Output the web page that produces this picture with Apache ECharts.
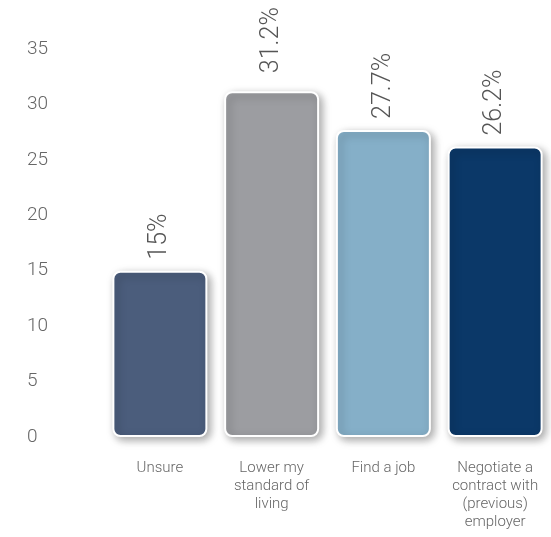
<!DOCTYPE html>
<html>
<head>
<meta charset="utf-8">
<script src="https://cdn.jsdelivr.net/npm/echarts@6/dist/echarts.min.js"></script>
<style>
  html, body { margin: 0; padding: 0; background: #fff; }
  #chart { width: 551px; height: 537px; }
</style>
</head>
<body>
<div id="chart"></div>
<script>
// data
var categories = ['Unsure', 'Lower my\nstandard of\nliving', 'Find a job', 'Negotiate a\ncontract with\n(previous)\nemployer'];
var values = [15, 31.2, 27.7, 26.2];
var labels = ['15%', '31.2%', '27.7%', '26.2%'];
var colors = ['#4b5d7c', '#9c9da1', '#85afc8', '#0b3868'];

var mychart = echarts.init(document.getElementById('chart'));

var font = 'Roboto, "Liberation Sans", sans-serif';

var option = {
    animation: false,
    grid: { left: 104, right: 0, top: 49, bottom: 100 },
    xAxis: {
        type: 'category',
        data: categories,
        axisLine: { show: false },
        axisTick: { show: false },
        axisLabel: {
            color: '#666',
            fontFamily: font,
            fontWeight: 300,
            fontSize: 15,
            lineHeight: 18,
            margin: 22,
            interval: 0
        }
    },
    yAxis: {
        type: 'value',
        min: 0,
        max: 35,
        interval: 5,
        splitLine: { show: false },
        axisLine: { show: false },
        axisTick: { show: false },
        axisLabel: {
            color: '#666',
            fontFamily: font,
            fontWeight: 300,
            fontSize: 19,
            align: 'left',
            margin: 77
        }
    },
    series: [{
        type: 'bar',
        barCategoryGap: '15%',
        data: values.map(function (v, i) {
            return {
                value: v,
                itemStyle: { color: colors[i] },
                label: { distance: i === 1 ? 18 : 11 }
            };
        }),
        itemStyle: {
            borderColor: '#fff',
            borderWidth: 2,
            borderRadius: 7,
            shadowColor: 'rgba(0,0,0,0.35)',
            shadowBlur: 8,
            shadowOffsetX: 3,
            shadowOffsetY: 3
        },
        label: {
            show: true,
            position: 'top',
            rotate: 90,
            align: 'left',
            verticalAlign: 'middle',
            color: '#555',
            fontFamily: font,
            fontWeight: 300,
            fontSize: 25,
            formatter: function (p) { return labels[p.dataIndex]; }
        }
    }]
};

mychart.setOption(option);
</script>
</body>
</html>
